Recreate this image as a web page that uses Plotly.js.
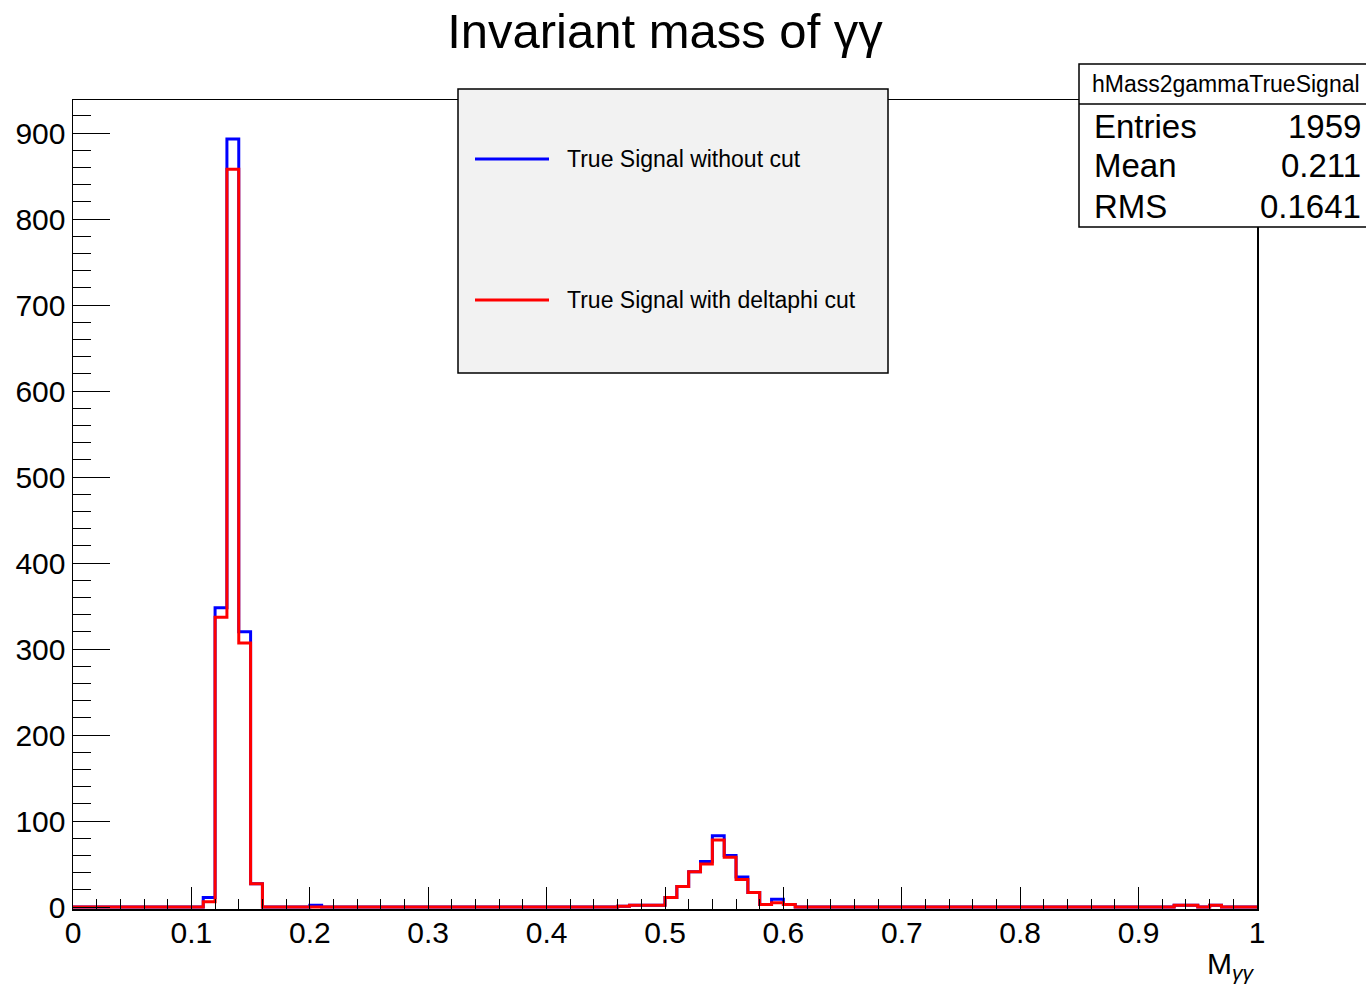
<!DOCTYPE html>
<html>
<head>
<meta charset="utf-8">
<script src="https://cdn.plot.ly/plotly-3.0.1.min.js"></script>
<style>html,body{margin:0;padding:0;background:#fff;}#chart{width:1366px;height:985px;}</style>
</head>
<body>
<div id="chart"></div>
<script>
// Histogram: 100 bins of width 0.01 from 0 to 1
const binWidth = 0.01;
// counts per bin (bin i covers [i*0.01, (i+1)*0.01))
const countsNoCut = [
  0,0,0,0,0,0,0,0,0,0,
  0,11,348,893,320,27,0,0,0,0,
  2,0,0,0,0,0,0,0,0,0,
  0,0,0,0,0,0,0,0,0,0,
  0,0,0,0,0,0,1,2,2,2,
  11,24,41,53,83,60,35,17,3,9,
  3,0,0,0,0,0,0,0,0,0,
  0,0,0,0,0,0,0,0,0,0,
  0,0,0,0,0,0,0,0,0,0,
  0,0,0,2,2,0,2,0,0,0
];
const countsDeltaPhiCut = [
  0,0,0,0,0,0,0,0,0,0,
  0,6,337,858,307,27,0,0,0,0,
  0,0,0,0,0,0,0,0,0,0,
  0,0,0,0,0,0,0,0,0,0,
  0,0,0,0,0,0,1,2,2,2,
  11,24,41,50,78,58,32,17,3,5,
  3,0,0,0,0,0,0,0,0,0,
  0,0,0,0,0,0,0,0,0,0,
  0,0,0,0,0,0,0,0,0,0,
  0,0,0,2,2,0,2,0,0,0
];
const seriesNames = ["True Signal without cut", "True Signal with deltaphi cut"];
const seriesColors = ["#0000ff", "#ff0000"];
const statsName = "hMass2gammaTrueSignal";
const statsLabels = ["Entries", "Mean", "RMS"];
const statsValues = ["1959", "0.211", "0.1641"];

function stepXY(counts) {
  const x = [], y = [];
  for (let i = 0; i < counts.length; i++) { x.push(i * binWidth); y.push(counts[i]); }
  x.push(counts.length * binWidth); y.push(counts[counts.length - 1]);
  return {x, y};
}
const s1 = stepXY(countsNoCut), s2 = stepXY(countsDeltaPhiCut);

const FONT = "Liberation Sans, Arial, Helvetica, sans-serif";
const traces = [
  {type: "scatter", mode: "lines", x: s1.x, y: s1.y, name: seriesNames[0],
   line: {shape: "hv", color: seriesColors[0], width: 3}, showlegend: false, hoverinfo: "x+y"},
  {type: "scatter", mode: "lines", x: s2.x, y: s2.y, name: seriesNames[1],
   line: {shape: "hv", color: seriesColors[1], width: 3}, showlegend: false, hoverinfo: "x+y"}
];

// pixel -> paper helpers (plot area: x 73..1257, y 100..909)
const L = 73, R = 1257, T = 100, B = 909;
const px = v => (v - L) / (R - L);
const py = v => (B - v) / (B - T);

const shapes = [
  // legend box
  {type: "rect", xref: "paper", yref: "paper", x0: px(458), x1: px(888), y0: py(373), y1: py(89),
   fillcolor: "#f2f2f2", line: {color: "#000", width: 1.5}, layer: "above"},
  {type: "line", xref: "paper", yref: "paper", x0: px(475), x1: px(549), y0: py(159), y1: py(159),
   line: {color: seriesColors[0], width: 3}, layer: "above"},
  {type: "line", xref: "paper", yref: "paper", x0: px(475), x1: px(549), y0: py(300), y1: py(300),
   line: {color: seriesColors[1], width: 3}, layer: "above"},
  // stats box
  {type: "rect", xref: "paper", yref: "paper", x0: px(1079), x1: px(1375), y0: py(227), y1: py(64),
   fillcolor: "#ffffff", line: {color: "#000", width: 1.5}, layer: "above"},
  {type: "line", xref: "paper", yref: "paper", x0: px(1079), x1: px(1375), y0: py(104), y1: py(104),
   line: {color: "#000", width: 1.5}, layer: "above"}
];

const annotations = [
  {xref: "paper", yref: "paper", x: px(565), y: py(159), xanchor: "left", yanchor: "middle",
   text: seriesNames[0], showarrow: false, font: {family: FONT, size: 23, color: "#000"}},
  {xref: "paper", yref: "paper", x: px(565), y: py(300), xanchor: "left", yanchor: "middle",
   text: seriesNames[1], showarrow: false, font: {family: FONT, size: 23, color: "#000"}},
  {xref: "paper", yref: "paper", x: px(1226), y: py(84), xanchor: "center", yanchor: "middle",
   text: statsName, showarrow: false, font: {family: FONT, size: 23, color: "#000"}},
  // axis title
  {xref: "paper", yref: "paper", x: 1, y: 0, xanchor: "right", yanchor: "top", yshift: -36,
   text: "M<sub><i>γγ</i></sub>", showarrow: false, font: {family: FONT, size: 30, color: "#000"}}
];
const rowsY = [127, 165, 206];
for (let i = 0; i < statsLabels.length; i++) {
  annotations.push({xref: "paper", yref: "paper", x: px(1092), y: py(rowsY[i]), xanchor: "left", yanchor: "middle",
    text: statsLabels[i], showarrow: false, font: {family: FONT, size: 33, color: "#000"}});
  annotations.push({xref: "paper", yref: "paper", x: px(1363), y: py(rowsY[i]), xanchor: "right", yanchor: "middle",
    text: statsValues[i], showarrow: false, font: {family: FONT, size: 33, color: "#000"}});
}

const layout = {
  width: 1366, height: 985,
  margin: {l: L, r: 1366 - R, t: T, b: 985 - B, pad: 0},
  paper_bgcolor: "#fff", plot_bgcolor: "#fff",
  font: {family: FONT, color: "#000"},
  title: {text: "Invariant mass of γγ", x: px(665), xref: "paper", xanchor: "center",
          y: 1 - 31 / 985, yanchor: "middle", yref: "container",
          font: {family: FONT, size: 49, color: "#000"}},
  showlegend: false,
  xaxis: {range: [0, 1], dtick: 0.1, tick0: 0, ticks: "inside", ticklen: 22, tickwidth: 1, tickcolor: "#000",
          minor: {dtick: 0.02, tick0: 0, ticks: "inside", ticklen: 10, tickwidth: 1, tickcolor: "#000"},
          showline: true, linecolor: "#000", linewidth: 1.5, mirror: true, showgrid: false, zeroline: false,
          ticklabelstandoff: -4,
          tickfont: {family: FONT, size: 30, color: "#000"}, tickformat: "~g"},
  yaxis: {range: [-2.3, 938.4], dtick: 100, tick0: 0, ticks: "inside", ticklen: 37, tickwidth: 1, tickcolor: "#000",
          minor: {dtick: 20, tick0: 0, ticks: "inside", ticklen: 18, tickwidth: 1, tickcolor: "#000"},
          showline: true, linecolor: "#000", linewidth: 1.5, mirror: true, showgrid: false, zeroline: false,
          tickfont: {family: FONT, size: 30, color: "#000"}},
  shapes: shapes,
  annotations: annotations
};

Plotly.newPlot("chart", traces, layout, {displayModeBar: false, staticPlot: true});
</script>
</body>
</html>
